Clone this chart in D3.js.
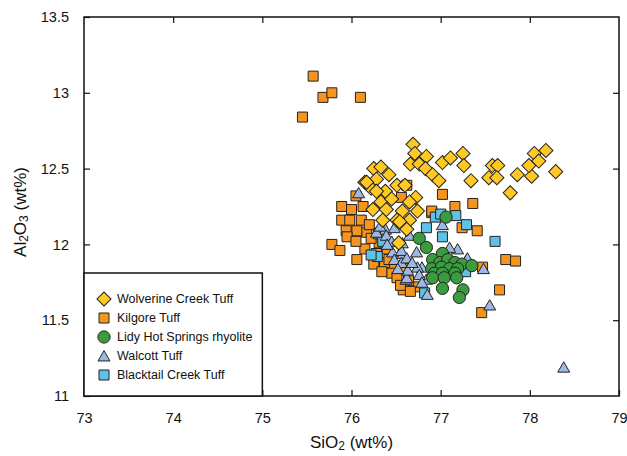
<!DOCTYPE html>
<html>
<head>
<meta charset="utf-8">
<script src="https://cdn.jsdelivr.net/npm/d3@7"></script>
<style>
  body { margin: 0; background: #fff; }
  svg { font-family: "Liberation Sans", Arial, sans-serif; }
</style>
</head>
<body>
<svg width="627" height="456"></svg>
<script>
// SiO2 (wt%), Al2O3 (wt%) pairs
const wolverine = [
  [76.69,12.66],[76.71,12.60],[76.84,12.58],[76.66,12.53],[76.76,12.53],[76.83,12.50],
  [76.91,12.46],[76.98,12.42],[77.02,12.54],[77.11,12.57],[77.25,12.60],[77.26,12.52],
  [77.34,12.42],[77.58,12.52],[77.64,12.52],[77.54,12.44],[77.63,12.44],[77.78,12.34],
  [77.86,12.46],[78.02,12.45],[77.99,12.52],[78.05,12.60],[78.18,12.62],[78.10,12.55],
  [78.29,12.48],[76.25,12.50],[76.33,12.51],[76.42,12.46],[76.15,12.41],[76.28,12.43],
  [76.22,12.37],[76.38,12.35],[76.51,12.39],[76.28,12.35],[76.33,12.28],[76.72,12.31],
  [76.65,12.28],[76.57,12.22],[76.74,12.22],[76.24,12.23],[76.39,12.23],[76.51,12.16],
  [76.65,12.16],[76.35,12.16],[76.53,12.01],[76.62,12.10],[76.54,12.15],[76.17,12.41],
  [76.60,12.39],[76.45,12.30]
];
const kilgore = [
  [75.57,13.11],[75.68,12.97],[75.78,13.00],[75.45,12.84],[76.10,12.97],[77.02,12.33],
  [76.62,12.39],[76.05,12.32],[75.89,12.25],[76.00,12.23],[77.16,12.25],[77.36,12.27],
  [76.90,12.21],[75.94,12.09],[75.78,12.00],[75.87,11.96],[76.06,11.90],[77.41,12.09],
  [77.73,11.90],[77.84,11.89],[77.66,11.70],[77.46,11.55],[77.47,11.85],[77.24,12.11],
  [76.71,11.72],[76.59,11.84],[76.47,11.85],[76.45,11.81],[76.37,11.88],[76.31,12.01],
  [76.17,12.08],[76.06,12.09],[76.28,11.94],[76.13,12.25],[75.89,12.16],[75.98,12.16],
  [76.11,12.16],[76.20,12.13],[76.56,12.31],[76.22,12.04],[76.40,11.97],[76.51,11.78],
  [76.64,11.76],[76.90,12.22],[76.58,11.70],[76.15,11.97],[76.25,11.87],[76.34,11.82],
  [75.95,12.05],[76.05,12.02],[76.42,11.90],[76.30,12.07],[76.55,11.73],[76.66,11.69]
];
const lidy = [
  [77.06,12.18],[76.76,12.04],[76.84,11.98],[77.02,11.94],[76.91,11.90],[76.99,11.88],
  [77.08,11.90],[77.16,11.88],[77.24,11.87],[77.35,11.86],[76.90,11.84],[77.01,11.85],
  [77.10,11.84],[77.19,11.84],[76.93,11.81],[77.02,11.81],[77.16,11.81],[76.91,11.78],
  [77.04,11.78],[77.18,11.78],[77.02,11.71],[77.25,11.70],[77.21,11.65]
];
const walcott = [
  [78.38,11.19],[77.55,11.60],[77.48,11.84],[76.85,11.67],[76.61,11.77],[77.02,12.13],
  [77.19,11.97],[77.29,11.90],[76.73,11.95],[76.79,11.85],[76.84,11.77],[76.54,11.94],
  [76.57,12.01],[76.38,12.10],[76.28,12.08],[76.08,12.34],[76.48,12.11],[76.39,12.06],
  [76.45,12.02],[76.46,11.95],[76.56,11.96],[76.48,11.90],[76.56,11.88],[76.62,11.78],
  [76.62,11.91],[76.74,11.85],[76.63,11.83],[76.76,11.80],[76.79,11.75],[77.10,11.98],
  [77.30,11.91],[76.65,12.06],[76.32,12.12],[76.52,11.84],[76.68,11.88],[76.40,12.00]
];
const blacktail = [
  [76.94,12.18],[77.17,12.19],[77.29,12.13],[76.84,12.11],[77.61,12.02],[76.29,11.92],
  [76.82,11.68],[77.02,12.05],[76.35,12.02],[77.28,11.82],[76.22,11.93],[77.00,12.20]
];
const seriesNames = ["Wolverine Creek Tuff", "Kilgore Tuff", "Lidy Hot Springs rhyolite", "Walcott Tuff", "Blacktail Creek Tuff"];
const xTicks = [73, 74, 75, 76, 77, 78, 79];
const yTicks = [11, 11.5, 12, 12.5, 13, 13.5];

const series = [
  { name: seriesNames[1], data: kilgore, shape: "square", fill: "#f7941e" },
  { name: seriesNames[4], data: blacktail, shape: "square", fill: "#5ec2e8" },
  { name: seriesNames[3], data: walcott, shape: "triangle", fill: "#9db9e2" },
  { name: seriesNames[2], data: lidy, shape: "circle", fill: "#3b9b3f" },
  { name: seriesNames[0], data: wolverine, shape: "diamond", fill: "#ffc824" }
];

const margin = { left: 84, top: 17, right: 8, bottom: 60 };
const width = 627, height = 456;
const x = d3.scaleLinear().domain([73, 79]).range([margin.left, width - margin.right]);
const y = d3.scaleLinear().domain([11, 13.5]).range([height - margin.bottom, margin.top]);

const svg = d3.select("svg");

const sym = {
  square: d3.symbol().type(d3.symbolSquare).size(100)(),
  diamond: d3.symbol().type(d3.symbolSquare).size(100)(),
  circle: d3.symbol().type(d3.symbolCircle).size(118)(),
  triangle: d3.symbol().type(d3.symbolTriangle).size(62)()
};
function place(shape, cx, cy) {
  return `translate(${cx},${cy})` + (shape === "diamond" ? " rotate(45)" : "");
}

const points = svg.append("g");
series.forEach(s => {
  points.append("g")
    .selectAll("path")
    .data(s.data)
    .join("path")
    .attr("d", sym[s.shape])
    .attr("transform", d => place(s.shape, x(d[0]), y(d[1]) + (s.shape === "triangle" ? 1.5 : 0)))
    .attr("fill", s.fill)
    .attr("stroke", "#222")
    .attr("stroke-width", 1);
});

// axes with inward ticks
const tickLen = 6;
svg.append("g")
  .attr("transform", `translate(0,${y(11)})`)
  .call(d3.axisBottom(x).tickValues(xTicks).tickSizeInner(-tickLen).tickSizeOuter(0).tickPadding(17).tickFormat(d3.format("d")))
  .call(g => g.select(".domain").remove());
svg.append("g")
  .attr("transform", `translate(0,${y(13.5)})`)
  .call(d3.axisTop(x).tickValues(xTicks.slice(1, -1)).tickSizeInner(-tickLen).tickSizeOuter(0).tickFormat(""))
  .call(g => g.select(".domain").remove());
svg.append("g")
  .attr("transform", `translate(${x(73)},0)`)
  .call(d3.axisLeft(y).tickValues(yTicks).tickSizeInner(-tickLen).tickSizeOuter(0).tickPadding(15).tickFormat(d => d))
  .call(g => g.select(".domain").remove());
svg.append("g")
  .attr("transform", `translate(${x(79)},0)`)
  .call(d3.axisRight(y).tickValues(yTicks.slice(1, -1)).tickSizeInner(-tickLen).tickSizeOuter(0).tickFormat(""))
  .call(g => g.select(".domain").remove());
svg.selectAll(".tick line").attr("stroke", "#111").attr("stroke-width", 1.2);
svg.selectAll(".tick text").attr("font-size", 14.5).attr("fill", "#111")
  .attr("font-family", "'Liberation Sans', Arial, sans-serif");

svg.append("rect")
  .attr("x", x(73)).attr("y", y(13.5))
  .attr("width", x(79) - x(73)).attr("height", y(11) - y(13.5))
  .attr("fill", "none").attr("stroke", "#111").attr("stroke-width", 1.5);

// legend
const legend = svg.append("g");
legend.append("rect")
  .attr("x", x(73)).attr("y", 273)
  .attr("width", x(75) - x(73)).attr("height", y(11) - 273)
  .attr("fill", "#fff").attr("stroke", "#111").attr("stroke-width", 1.5);
const legendOrder = [4, 0, 3, 2, 1].map(i => series[i]);
legendOrder.forEach((s, i) => {
  const ly = 299 + i * 19;
  legend.append("path")
    .attr("d", sym[s.shape])
    .attr("transform", place(s.shape, 104, ly + (s.shape === "triangle" ? 1.5 : 0)))
    .attr("fill", s.fill).attr("stroke", "#222").attr("stroke-width", 1);
  legend.append("text")
    .attr("x", 117).attr("y", ly)
    .attr("dy", "0.35em")
    .attr("font-size", 12.5).attr("fill", "#111")
    .text(s.name);
});

// axis titles
const xt = svg.append("text")
  .attr("x", x(76)).attr("y", 448)
  .attr("text-anchor", "middle").attr("font-size", 17).attr("fill", "#111");
xt.append("tspan").text("SiO");
xt.append("tspan").attr("font-size", 12).attr("dy", 2).text("2");
xt.append("tspan").attr("dy", -2).text(" (wt%)");

const yt = svg.append("text")
  .attr("transform", `translate(26,212) rotate(-90)`)
  .attr("text-anchor", "middle").attr("font-size", 17).attr("fill", "#111");
yt.append("tspan").text("Al");
yt.append("tspan").attr("font-size", 12).attr("dy", 2).text("2");
yt.append("tspan").attr("dy", -2).text("O");
yt.append("tspan").attr("font-size", 12).attr("dy", 2).text("3");
yt.append("tspan").attr("dy", -2).text(" (wt%)");
</script>
</body>
</html>
